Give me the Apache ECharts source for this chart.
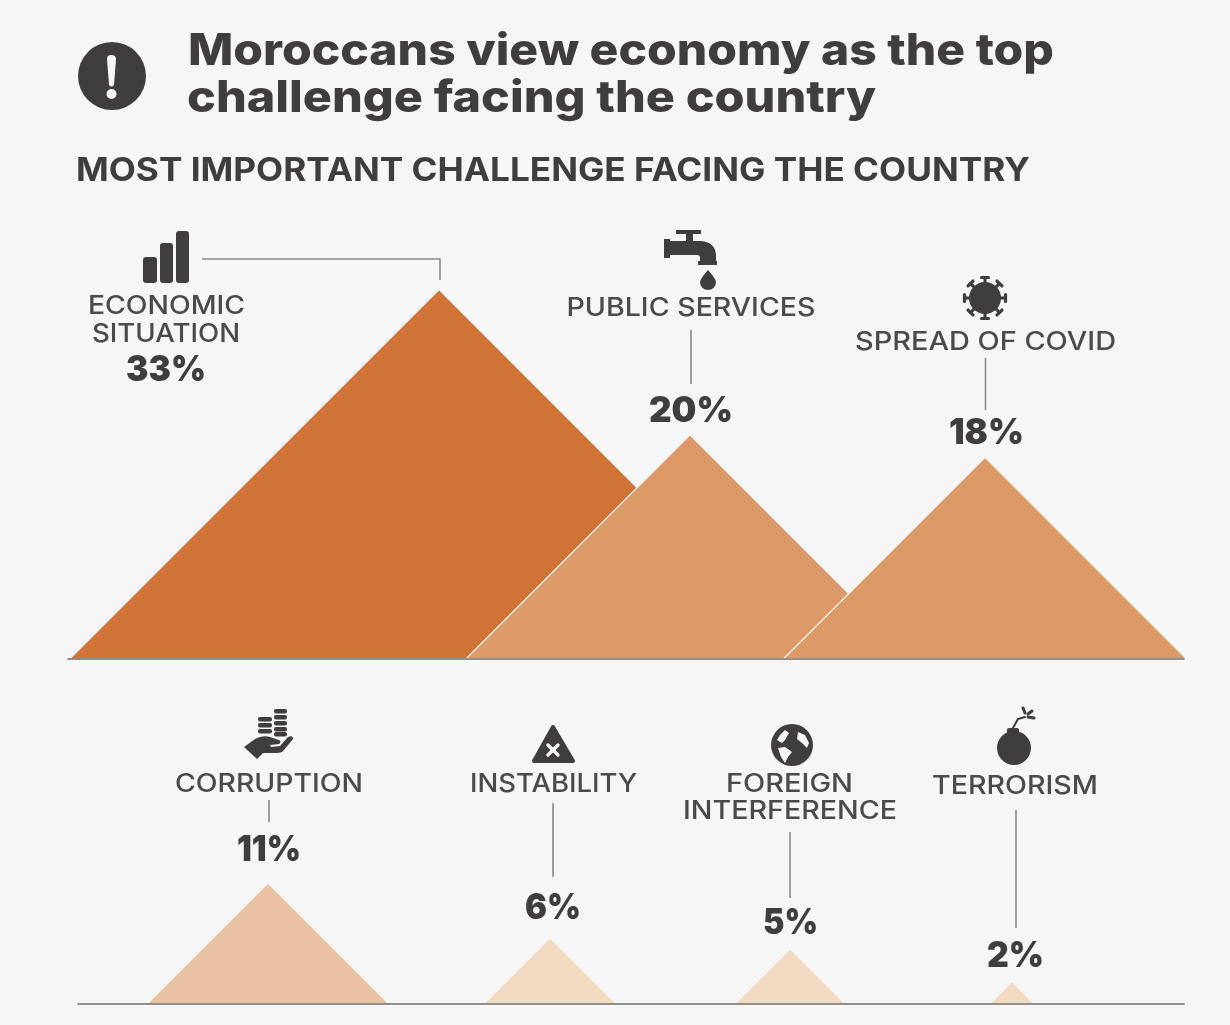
<!DOCTYPE html>
<html>
<head>
<meta charset="utf-8">
<script src="https://cdn.jsdelivr.net/npm/echarts@6/dist/echarts.min.js"></script>
<style>
  html, body { margin: 0; background: #f6f6f6; }
  #chart { width: 1230px; height: 1025px; }
</style>
</head>
<body>
<div id="chart"></div>
<script>
// data
const topCategories = ['ECONOMIC\nSITUATION', 'PUBLIC SERVICES', 'SPREAD OF COVID']
const topValues = [33, 20, 18]
const bottomCategories = ['CORRUPTION', 'INSTABILITY', 'FOREIGN\nINTERFERENCE', 'TERRORISM']
const bottomValues = [11, 6, 5, 2]

// layout, x axes below run in page pixels
const topCentres = [439, 690, 985]
const bottomCentres = [268, 550, 790, 1012]
const topColors = ['#d07337', '#dc9a68', '#dc9a68']
const bottomColors = ['#e9c3a2', '#f3dbc3', '#f3dbc3', '#f3dbc3']

const BG = '#f6f6f6'
const DARK = '#3f3d3e'
const LABEL = '#4b494a'
const LEADER = '#8b8989'
const FAMILY = 'Inter, "Open Sans", sans-serif'

// montserrat is not installed, so each text is stretched to the reference width
const measure = document.createElement('canvas').getContext('2d')
function fitText(text, cx, left, y, width, size, weight, fill) {
  const font = `${weight} ${size}px ${FAMILY}`
  measure.font = font
  const w = measure.measureText(text).width
  const sx = width / w
  const x = left != null ? left : cx - width / 2
  return {
    type: 'text', x: x, y: y, scaleX: sx, z: 10, silent: true,
    style: { text: text, x: 0, y: 0, font: font, fill: fill, align: 'left', verticalAlign: 'middle' }
  }
}
const pctText = (v, cx, y, w) => fitText(v + '%', cx, null, y + 2, w, 35, 900, DARK)
const nameText = (t, cx, y, w) => fitText(t, cx, null, y + 1.5, w, 25, 500, LABEL)

function leader(points) {
  return {
    type: 'polyline', z: 9, silent: true,
    shape: { points: points },
    style: { stroke: LEADER, lineWidth: 1.6, fill: null }
  }
}
function dark(type, shape, extra) {
  return Object.assign({ type: type, shape: shape, z: 10, silent: true, style: { fill: DARK } }, extra || {})
}
function light(type, shape) {
  return { type: type, shape: shape, z: 11, silent: true, style: { fill: BG } }
}
function line(x1, y1, x2, y2, w, color) {
  return {
    type: 'line', z: 11, silent: true,
    shape: { x1: x1, y1: y1, x2: x2, y2: y2 },
    style: { stroke: color, lineWidth: w, lineCap: 'round' }
  }
}

// the graphic component has no path type, so svg paths are registered as shapes
let pathCount = 0
function pathEl(pathData, style, z) {
  const name = 'iconPath' + pathCount++
  echarts.graphic.registerShape(name, echarts.graphic.extendPath(pathData))
  return { type: name, z: z || 10, silent: true, style: style || { fill: DARK } }
}
const lightPath = d => pathEl(d, { fill: BG }, 11)

// icons
function virusIcon(cx, cy) {
  const out = [dark('circle', { cx: cx, cy: cy, r: 16 })]
  for (let i = 0; i < 8; i++) {
    const a = i * Math.PI / 4
    const c = Math.cos(a), s = Math.sin(a)
    out.push(line(cx + 14 * c, cy + 14 * s, cx + 20 * c, cy + 20 * s, 3, DARK))
    out.push(line(cx + 20.5 * c - 3.5 * s, cy + 20.5 * s + 3.5 * c, cx + 20.5 * c + 3.5 * s, cy + 20.5 * s - 3.5 * c, 3.2, DARK))
  }
  return out
}
function coinsIcon() {
  const out = []
  ;[717, 723, 729].forEach(y => out.push(dark('rect', { x: 258, y: y, width: 14, height: 4.4, r: 2 })))
  ;[709, 715, 721, 727, 732].forEach(y => out.push(dark('rect', { x: 274, y: y, width: 13, height: 4.4, r: 2 })))
  out.push(pathEl('M244 747 L255 739 Q262 735 270 737 L279 740 Q282 742 279 744 L270 745 L271 747 L280 746 L288 737 Q293 735 293 739 L284 750 Q282 753 277 753 L263 753 L257 759 Z'))
  return out
}

const icons = [
  // alert
  dark('circle', { cx: 112, cy: 76, r: 34 }),
  lightPath('M107 59 Q107 55 111 55 Q116 55 116 59 L114 85 Q111 88 109 85 Z'),
  light('circle', { cx: 111.5, cy: 94, r: 5 }),
  // bars
  dark('rect', { x: 143, y: 257, width: 14, height: 26, r: 3 }),
  dark('rect', { x: 160, y: 243, width: 13, height: 40, r: 3 }),
  dark('rect', { x: 176, y: 231, width: 13, height: 52, r: 3 }),
  // tap
  pathEl('M676 230 L701 230 L701 234 L693 234 L693 241 L702 241 Q716 243 716 256 L716 261 L717 261 L717 265 L698 265 L698 261 L700 261 L700 258 Q700 255 697 255 L670 255 L670 258 L664 258 L664 239 L670 239 L670 241 L686 241 L686 234 L676 234 Z'),
  pathEl('M708 270 Q716 279 716 282 A8 8 0 0 1 700 282 Q700 279 708 270 Z'),
  ...virusIcon(985, 298),
  ...coinsIcon(),
  // warning triangle
  pathEl('M553 727 L534 761 L573 761 Z', { fill: DARK, stroke: DARK, lineWidth: 4, lineJoin: 'round' }),
  line(548, 745, 558, 755, 3.4, BG),
  line(558, 745, 548, 755, 3.4, BG),
  // globe
  dark('circle', { cx: 792, cy: 745, r: 21 }),
  lightPath('M785 730 L780 735 L777 740 L782 743 L785 740 L789 733 Z'),
  lightPath('M798 732 L805 735 L809 743 L807 748 L802 743 L797 739 Z'),
  lightPath('M778 748 L785 747 L792 752 L788 757 L785 763 L781 757 Z'),
  // bomb
  dark('circle', { cx: 1014, cy: 748, r: 17 }),
  dark('rect', { x: 1007, y: 728, width: 12, height: 8, r: 2 }),
  line(1013, 728, 1018, 719, 2, DARK),
  line(1018, 719, 1025, 717, 2, DARK),
  line(1025, 713, 1023, 708, 3, DARK),
  line(1028, 714, 1032, 711, 3, DARK),
  line(1028, 717, 1034, 718, 3, DARK)
]

const texts = [
  fitText('Moroccans view economy as the top', null, 188, 51.5, 866, 44, 800, DARK),
  fitText('challenge facing the country', null, 187, 98.5, 689, 44, 800, DARK),
  fitText('MOST IMPORTANT CHALLENGE FACING THE COUNTRY', null, 76, 171.5, 954, 32, 700, DARK),

  nameText(topCategories[0].split('\n')[0], 166.5, 305, 157),
  nameText(topCategories[0].split('\n')[1], 166, 332.5, 148),
  pctText(topValues[0], 166, 368, 80),
  nameText(topCategories[1], 691, 307, 249),
  pctText(topValues[1], 691, 409, 84),
  nameText(topCategories[2], 985.5, 341, 261),
  pctText(topValues[2], 986.5, 431, 75),

  nameText(bottomCategories[0], 269, 783, 188),
  pctText(bottomValues[0], 269, 848, 64),
  nameText(bottomCategories[1], 553.5, 783, 167),
  pctText(bottomValues[1], 553, 906, 56),
  nameText(bottomCategories[2].split('\n')[0], 789.5, 783, 127),
  nameText(bottomCategories[2].split('\n')[1], 790, 810, 214),
  pctText(bottomValues[2], 790.5, 921, 55),
  nameText(bottomCategories[3], 1015, 785, 166),
  pctText(bottomValues[3], 1015.5, 954, 57)
]

const leaders = [
  leader([[202, 259], [440, 259], [440, 280]]),
  leader([[691, 330], [691, 384]]),
  leader([[985.5, 358], [985.5, 410]]),
  leader([[269, 800], [269, 822]]),
  leader([[553, 803], [553, 877]]),
  leader([[790, 832], [790, 898]]),
  leader([[1016, 810], [1016, 928]])
]

// triangles are as wide as they are tall, on both sides of the centre
function triangles(colors) {
  return function (params, api) {
    const foot = api.coord([api.value(0), 0])
    const h = api.size([0, api.value(1)])[1]
    return {
      type: 'polygon',
      shape: { points: [[foot[0] - h, foot[1]], [foot[0], foot[1] - h], [foot[0] + h, foot[1]]] },
      style: { fill: colors[params.dataIndex], stroke: BG, lineWidth: 1.2 }
    }
  }
}

const chart = echarts.init(document.querySelector('#chart'))

const axisBase = {
  type: 'value',
  axisLabel: { show: false },
  axisTick: { show: false },
  splitLine: { show: false },
  axisLine: { show: true, onZero: false, lineStyle: { color: '#716c69', width: 1.6 } },
  z: 5
}
const yBase = { type: 'value', show: false, min: 0, splitLine: { show: false } }

chart.setOption({
  backgroundColor: BG,
  animation: false,
  grid: [
    { left: 68, width: 1116, top: 289.5, height: 369 },
    { left: 78, width: 1106, top: 883, height: 120.5 }
  ],
  xAxis: [
    Object.assign({ gridIndex: 0, min: 68, max: 1184 }, axisBase),
    Object.assign({ gridIndex: 1, min: 78, max: 1184 }, axisBase)
  ],
  yAxis: [
    Object.assign({ gridIndex: 0, max: topValues[0] }, yBase),
    Object.assign({ gridIndex: 1, max: bottomValues[0] }, yBase)
  ],
  series: [
    {
      type: 'custom',
      xAxisIndex: 0,
      yAxisIndex: 0,
      clip: false,
      renderItem: triangles(topColors),
      encode: { x: 0, y: 1 },
      data: topValues.map((v, i) => [topCentres[i], v])
    },
    {
      type: 'custom',
      xAxisIndex: 1,
      yAxisIndex: 1,
      clip: false,
      renderItem: triangles(bottomColors),
      encode: { x: 0, y: 1 },
      data: bottomValues.map((v, i) => [bottomCentres[i], v])
    }
  ],
  graphic: { elements: [...leaders, ...icons, ...texts] }
})
</script>
</body>
</html>
